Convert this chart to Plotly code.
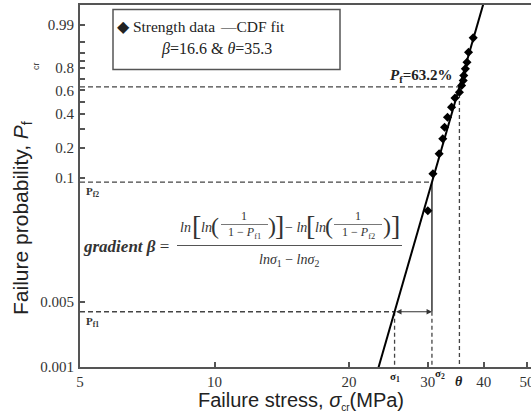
import numpy as np
import plotly.graph_objects as go

# Measured fracture strengths (MPa) and their failure probabilities
strength_mpa = [30.0, 30.8, 31.8, 32.4, 32.7, 33.2, 33.9, 34.5,
                35.3, 35.7, 36.0, 36.1, 36.4, 36.7, 37.0, 37.9]
failure_prob = [0.046, 0.111, 0.175, 0.243, 0.309, 0.377, 0.455, 0.533,
                0.584, 0.645, 0.690, 0.734, 0.790, 0.841, 0.905, 0.965]

# Weibull CDF fit parameters
beta = 16.6
theta = 35.3

# Two probabilities used to illustrate the gradient
p_f1 = 0.0039
p_f2 = 0.091

# Axis ticks
prob_ticks = [0.001, 0.005, 0.1, 0.2, 0.4, 0.6, 0.8, 0.99]
prob_tick_labels = ["0.001", "0.005", "0.1", "0.2", "0.4", "0.6", "0.8", "0.99"]
prob_minor = [0.3, 0.5, 0.7, 0.85, 0.9, 0.95]
stress_ticks = [5, 10, 20, 30, 40, 50]
stress_tick_labels = ["5", "10", "20", "30", "40", "50"]


def weibull_y(p):
    """Weibull probability-paper ordinate: ln(-ln(1-P))."""
    return np.log(-np.log(1.0 - np.asarray(p, dtype=float)))


def stress_at(p):
    """Stress on the fitted CDF for a given failure probability."""
    return theta * np.exp(weibull_y(p) / beta)


# Figure geometry (pixels)
W, H = 531, 419
L, R, T, B = 80, 531, 5, 367
PX_PER_DECADE = 447.0
PX_PER_UNIT = 40.55

y_min = float(weibull_y(0.001))
y_max = y_min + (B - T) / PX_PER_UNIT
x_lo = np.log10(5)
x_hi = x_lo + (R - L) / PX_PER_DECADE


def px(x):
    return (x - L) / (R - L)


def py(y):
    return (B - y) / (B - T)


sigma1 = float(stress_at(p_f1))
sigma2 = float(stress_at(p_f2))
y_f1 = float(weibull_y(p_f1))
y_f2 = float(weibull_y(p_f2))
y_char = float(weibull_y(1 - np.exp(-1)))  # 63.2 %

GUIDE = "#444444"
AXIS = "#555555"
TXT = "#333333"
SERIF = "Liberation Serif"
SANS = "Liberation Sans"

fig = go.Figure()


def dashed(xs, ys, dash="5px,3px"):
    fig.add_trace(go.Scatter(x=xs, y=ys, mode="lines",
                             line=dict(color=GUIDE, width=1.3, dash=dash),
                             hoverinfo="skip", showlegend=False))


# Guide lines
dashed([5, theta], [y_char, y_char])
dashed([theta, theta], [y_char, y_min], dash="4px,3px")
dashed([5, sigma2], [y_f2, y_f2])
dashed([5, sigma1], [y_f1, y_f1])
dashed([sigma1, sigma1], [y_f1, y_min], dash="4px,3px")
dashed([sigma2, sigma2], [y_f1, y_min], dash="4px,3px")
fig.add_trace(go.Scatter(x=[sigma2, sigma2], y=[y_f2, y_f1], mode="lines",
                         line=dict(color="#333333", width=1.5),
                         hoverinfo="skip", showlegend=False))

# Fitted Weibull CDF
fit_s = np.linspace(20, 45, 200)
fit_y = beta * (np.log(fit_s) - np.log(theta))
fig.add_trace(go.Scatter(x=fit_s, y=fit_y, mode="lines",
                         line=dict(color="black", width=2),
                         name="CDF fit", showlegend=False))

# Strength data
fig.add_trace(go.Scatter(x=strength_mpa, y=weibull_y(failure_prob), mode="markers",
                         marker=dict(symbol="diamond", size=7, color="black"),
                         name="Strength data", showlegend=False))

ann = []


def text(x, y, s, size=13, family=SERIF, color=TXT, xanchor="center", angle=0):
    ann.append(dict(x=px(x), y=py(y), xref="paper", yref="paper", text=s,
                    showarrow=False, xanchor=xanchor, yanchor="middle",
                    borderpad=0, textangle=angle,
                    font=dict(family=family, size=size, color=color)))


# Legend box contents
text(116, 26, "◆ Strength data", size=15.5, xanchor="left", color="#222")
text(219, 26, "—CDF fit", size=15.5, xanchor="left", color="#222")
text(216, 49, f"<i>β</i>={beta} & <i>θ</i>={theta}", size=16, color="#222")

# Characteristic strength label
text(453, 76, "<b><i>P</i><sub>f</sub>=63.2%</b>", size=15, xanchor="right", color="#222")

# Probability markers on the left
text(85, 192, "<b>P<sub>f2</sub></b>", size=11, xanchor="left")
text(85, 322, "<b>P<sub>f1</sub></b>", size=11, xanchor="left")

# Gradient formula
text(82, 247, "<b><i>gradient β</i></b> =", size=17, xanchor="left")
text(185, 227, "<i>ln</i>", size=14)
text(196, 226, "[", size=28)
text(206, 227, "<i>ln</i>", size=14)
text(215, 226, "(", size=24)
text(244, 216, "1", size=12)
text(244, 233, "1 − <i>P</i><sub>f1</sub>", size=12)
text(272, 226, ")", size=24)
text(279, 226, "]", size=28)
text(296, 227, "− <i>ln</i>", size=14)
text(310, 226, "[", size=28)
text(320, 227, "<i>ln</i>", size=14)
text(329, 226, "(", size=24)
text(358, 216, "1", size=12)
text(358, 233, "1 − <i>P</i><sub>f2</sub>", size=12)
text(387, 226, ")", size=24)
text(395, 226, "]", size=28)
text(289, 260, "<i>lnσ</i><sub>1</sub> − <i>lnσ</i><sub>2</sub>", size=14)

# Axis titles
text(22, 218, "Failure probability, <i>P</i><sub>f</sub>", size=21, family=SANS,
     color="#222", angle=-90)
text(36, 66, "cr", size=9, family=SANS, color="#444", angle=-90)
text(301, 401, "Failure stress, <i>σ</i><sub><span style='font-size:10px'>cr</span></sub>(MPa)",
     size=20, family=SANS, color="#222")

# Stress markers under the axis
for s, lbl, dx, y, size in [(sigma1, "<b>σ<sub>1</sub></b>", 0, 377, 11),
                            (sigma2, "<b>σ<sub>2</sub></b>", 8, 374, 11),
                            (theta, "<b><i>θ</i></b>", 0, 381, 14)]:
    ann.append(dict(x=np.log10(s), y=py(y), xref="x", yref="paper", text=lbl,
                    showarrow=False, xshift=dx, yanchor="middle", borderpad=0,
                    font=dict(family=SERIF, size=size, color="#222")))

# Double arrow between sigma1 and sigma2
ann.append(dict(x=np.log10(sigma2), y=y_f1, ax=np.log10(sigma1), ay=y_f1,
                xref="x", yref="y", axref="x", ayref="y", text="",
                showarrow=True, arrowside="end+start", arrowhead=2,
                arrowsize=0.9, arrowwidth=1.2, arrowcolor="#333"))

shapes = [
    dict(type="rect", xref="paper", yref="paper", x0=px(113), x1=px(340),
         y0=py(69.5), y1=py(9.5), line=dict(color=AXIS, width=1.5)),
    dict(type="line", xref="paper", yref="paper", x0=px(177), x1=px(402),
         y0=py(245.5), y1=py(245.5), line=dict(color="#555", width=1)),
    dict(type="line", xref="paper", yref="paper", x0=px(221), x1=px(268),
         y0=py(224.5), y1=py(224.5), line=dict(color="#555", width=0.8)),
    dict(type="line", xref="paper", yref="paper", x0=px(334), x1=px(382),
         y0=py(224.5), y1=py(224.5), line=dict(color="#555", width=0.8)),
]

fig.update_layout(
    width=W, height=H,
    margin=dict(l=L, r=W - R, t=T, b=H - B, pad=0),
    paper_bgcolor="white", plot_bgcolor="white",
    showlegend=False,
    annotations=ann, shapes=shapes,
    xaxis=dict(type="log", range=[x_lo, x_hi],
               tickvals=stress_ticks, ticktext=stress_tick_labels,
               ticks="inside", ticklen=5, tickwidth=1.5, tickcolor=AXIS,
               showline=True, linewidth=2, linecolor=AXIS, mirror=True,
               showgrid=False, zeroline=False, automargin=False,
               ticklabeloverflow="allow",
               tickfont=dict(family=SERIF, size=15, color=TXT)),
    yaxis=dict(range=[y_min, y_max],
               tickvals=weibull_y(prob_ticks), ticktext=prob_tick_labels,
               ticks="inside", ticklen=5, tickwidth=1.5, tickcolor=AXIS,
               minor=dict(tickvals=weibull_y(prob_minor), ticks="inside",
                          ticklen=5, tickwidth=1.5, tickcolor=AXIS),
               showline=True, linewidth=2, linecolor=AXIS,
               showgrid=False, zeroline=False, automargin=False,
               ticklabelstandoff=1, ticklabeloverflow="allow",
               tickfont=dict(family=SERIF, size=15, color=TXT)),
)

fig.write_html("out.html")
